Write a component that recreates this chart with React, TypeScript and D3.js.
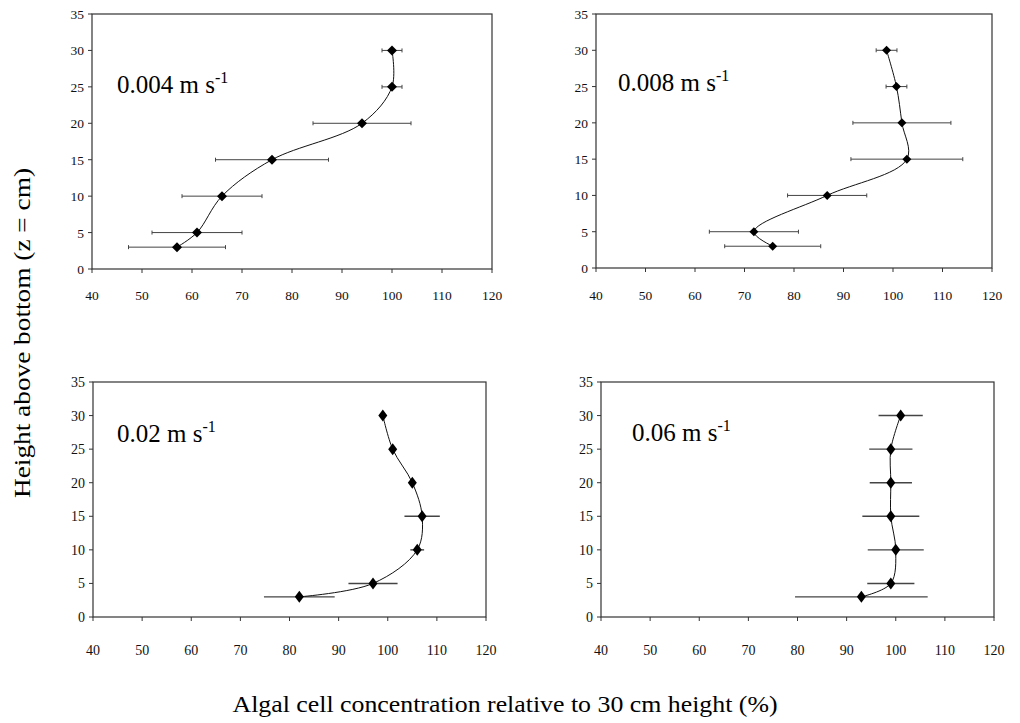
import React from "react";
import * as d3 from "d3";

const heights = [3, 5, 10, 15, 20, 25, 30];
const conc004 = [57, 61, 66, 76, 94, 100, 100];
const err004 = [9.7, 9, 8, 11.3, 9.8, 2, 2];
const conc008 = [75.7, 71.9, 86.7, 102.8, 101.8, 100.7, 98.7];
const err008 = [9.7, 9, 8, 11.3, 9.9, 2.1, 2.1];
const conc02 = [82, 97, 106, 107, 105, 101, 99];
const err02 = [7.2, 5, 1.4, 3.6, 0, 0, 0];
const conc06 = [93, 99, 100, 99, 99, 99, 101];
const err06 = [13.5, 4.8, 5.7, 5.8, 4.3, 4.4, 4.5];

const xTicks = [40, 50, 60, 70, 80, 90, 100, 110, 120];
const yTicks = [0, 5, 10, 15, 20, 25, 30, 35];
const panelLabels = ["0.004", "0.008", "0.02", "0.06"];
const yTitle = "Height above bottom (z = cm)";
const xTitle = "Algal cell concentration relative to 30 cm height (%)";

const FONT = "'Liberation Serif', 'Times New Roman', Times, 'DejaVu Serif', serif";

type PanelCfg = {
  left: number; right: number; top: number; bottom: number;
  conc: number[]; err: number[]; label: string;
  labelX: number; labelY: number; tickFs: number; xLabY: number;
  errW: number; caps: boolean; mw: number; mh: number;
};

const panels: PanelCfg[] = [
  { left: 92, right: 492, top: 14, bottom: 269, conc: conc004, err: err004, label: panelLabels[0], labelX: 117, labelY: 93, tickFs: 13.5, xLabY: 300, errW: 1, caps: true, mw: 5, mh: 5 },
  { left: 596, right: 992, top: 14, bottom: 268, conc: conc008, err: err008, label: panelLabels[1], labelX: 618, labelY: 91, tickFs: 13.5, xLabY: 300, errW: 1, caps: true, mw: 4.5, mh: 4.5 },
  { left: 93, right: 486, top: 382, bottom: 617, conc: conc02, err: err02, label: panelLabels[2], labelX: 117, labelY: 442, tickFs: 14, xLabY: 655, errW: 1.4, caps: false, mw: 4.5, mh: 6 },
  { left: 601, right: 994, top: 382, bottom: 617, conc: conc06, err: err06, label: panelLabels[3], labelX: 632, labelY: 441, tickFs: 14, xLabY: 655, errW: 1.4, caps: false, mw: 4.5, mh: 6 },
];

function Panel({ p }: { p: PanelCfg }) {
  const x = d3.scaleLinear().domain([40, 120]).range([p.left, p.right]);
  const y = d3.scaleLinear().domain([0, 35]).range([p.bottom, p.top]);
  const pts: [number, number][] = heights.map((h, i) => [x(p.conc[i]), y(h)]);
  const line = d3.line().curve(d3.curveCatmullRom.alpha(0.5))(pts) || "";
  const frame = "#333";
  return (
    <g>
      <rect x={p.left} y={p.top} width={p.right - p.left} height={p.bottom - p.top} fill="none" stroke={frame} strokeWidth={1.2} />
      {xTicks.map((t) => (
        <g key={"x" + t}>
          <line x1={x(t)} x2={x(t)} y1={p.bottom} y2={p.bottom + 4} stroke={frame} strokeWidth={1} />
          <text x={x(t)} y={p.xLabY} textAnchor="middle" style={{ fontFamily: FONT, fontSize: p.tickFs }} fill="#111">{t}</text>
        </g>
      ))}
      {yTicks.map((t) => (
        <g key={"y" + t}>
          <line x1={p.left - 4} x2={p.left} y1={y(t)} y2={y(t)} stroke={frame} strokeWidth={1} />
          <text x={p.left - 8} y={y(t) + 5} textAnchor="end" style={{ fontFamily: FONT, fontSize: p.tickFs }} fill="#111">{t}</text>
        </g>
      ))}
      {heights.map((h, i) => {
        const e = p.err[i];
        if (!e) return null;
        const x1 = x(p.conc[i] - e), x2 = x(p.conc[i] + e), yy = y(h);
        return (
          <g key={"e" + i}>
            <line x1={x1} x2={x2} y1={yy} y2={yy} stroke="#444" strokeWidth={p.errW} />
            {p.caps && <line x1={x1} x2={x1} y1={yy - 2} y2={yy + 2} stroke="#444" strokeWidth={1} />}
            {p.caps && <line x1={x2} x2={x2} y1={yy - 2} y2={yy + 2} stroke="#444" strokeWidth={1} />}
          </g>
        );
      })}
      <path d={line} fill="none" stroke="#111" strokeWidth={1} />
      {pts.map(([px, py], i) => (
        <path key={"m" + i} d={`M${px},${py - p.mh}L${px + p.mw},${py}L${px},${py + p.mh}L${px - p.mw},${py}Z`} fill="#000" />
      ))}
      <text x={p.labelX} y={p.labelY} style={{ fontFamily: FONT, fontSize: 25 }} fill="#000">
        {p.label} m s<tspan dy={-10} style={{ fontSize: 16 }}>-1</tspan>
      </text>
    </g>
  );
}

export default function App() {
  return (
    <svg width={1020} height={723} style={{ position: "absolute", left: 0, top: 0, background: "#fff" }}>
      <rect x={0} y={0} width={1020} height={723} fill="#fff" />
      {panels.map((p, i) => <Panel key={i} p={p} />)}
      <text transform="translate(30,333) rotate(-90)" textAnchor="middle" textLength={330} lengthAdjust="spacingAndGlyphs" style={{ fontFamily: FONT, fontSize: 23 }} fill="#000">{yTitle}</text>
      <text x={505} y={712} textAnchor="middle" textLength={545} lengthAdjust="spacingAndGlyphs" style={{ fontFamily: FONT, fontSize: 23 }} fill="#000">{xTitle}</text>
    </svg>
  );
}
